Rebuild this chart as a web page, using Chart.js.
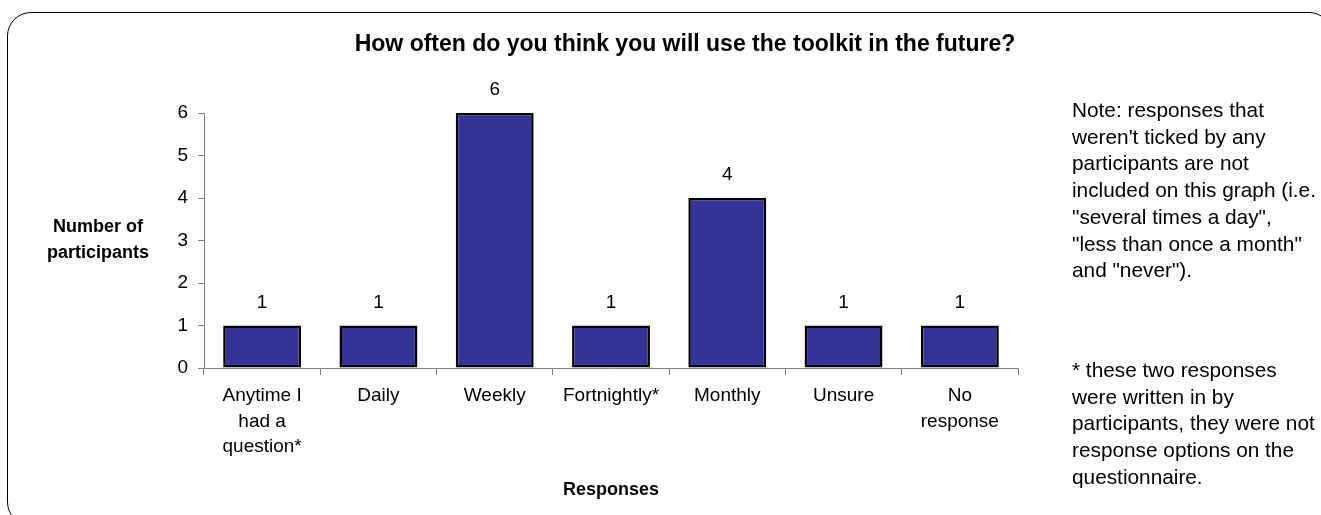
<!DOCTYPE html>
<html><head><meta charset="utf-8">
<script src="https://cdn.jsdelivr.net/npm/chart.js@4"></script>
<style>
html,body{margin:0;padding:0;width:1321px;height:515px;overflow:hidden;background:#fff;}
#frame{position:absolute;left:7px;top:12px;width:1326px;height:514px;border:1.5px solid #000;border-radius:24px;box-sizing:border-box;}
#wrap{position:absolute;left:0;top:0;width:1321px;height:515px;}
.note{position:absolute;left:1072px;font-family:"Liberation Sans",Arial,sans-serif;font-size:20.8px;line-height:26.7px;color:#000;white-space:nowrap;}
</style></head>
<body>
<div id="frame"></div>
<div id="wrap"><canvas id="c" width="1321" height="515"></canvas></div>
<div class="note" style="top:97px">Note: responses that<br>weren't ticked by any<br>participants are not<br>included on this graph (i.e.<br>"several times a day",<br>"less than once a month"<br>and "never").</div>
<div class="note" style="top:357px">* these two responses<br>were written in by<br>participants, they were not<br>response options on the<br>questionnaire.</div>
<script>
const chartTitle = "How often do you think you will use the toolkit in the future?";
const yAxisTitle = ["Number of", "participants"];
const xAxisTitle = "Responses";
const categories = [["Anytime I","had a","question*"], "Daily", "Weekly", "Fortnightly*", "Monthly", "Unsure", ["No","response"]];
const participants = [1, 1, 6, 1, 4, 1, 1];
const yTickValues = [0, 1, 2, 3, 4, 5, 6];

const FONT = '"Liberation Sans", Arial, sans-serif';

const extras = {
  id: 'extras',
  afterDraw(chart) {
    const ctx = chart.ctx;
    const area = chart.chartArea;
    ctx.save();
    ctx.fillStyle = '#000';
    // title
    ctx.font = 'bold 23px ' + FONT;
    ctx.textAlign = 'center';
    ctx.textBaseline = 'middle';
    ctx.fillText(chartTitle, 685, 45);
    // y axis title (horizontal)
    ctx.font = 'bold 18px ' + FONT;
    const yc = (area.top + area.bottom) / 2;
    ctx.fillText(yAxisTitle[0], 98, yc - 13);
    ctx.fillText(yAxisTitle[1], 98, yc + 13);
    // value labels
    ctx.font = '19px ' + FONT;
    const meta = chart.getDatasetMeta(0);
    meta.data.forEach((bar, i) => {
      ctx.fillText(String(participants[i]), bar.x, bar.y - 23);
    });
    ctx.restore();
  }
};

new Chart(document.getElementById('c'), {
  type: 'bar',
  data: {
    labels: categories,
    datasets: [{
      data: participants,
      backgroundColor: '#333399',
      borderColor: '#000000',
      borderWidth: 2.5,
      borderSkipped: false,
      barPercentage: 0.67,
      categoryPercentage: 1.0
    }]
  },
  options: {
    responsive: false,
    animation: false,
    layout: { padding: { top: 113, left: 144, right: 303, bottom: 0 } },
    plugins: { legend: { display: false }, tooltip: { enabled: false }, title: { display: false } },
    scales: {
      x: {
        afterFit: (s) => { s.height = 147; },
        grid: { display: true, drawOnChartArea: false, drawTicks: true, tickLength: 7, color: '#808080', offset: true },
        border: { display: true, color: '#808080', width: 1 },
        ticks: { color: '#000', font: { family: FONT, size: 19, lineHeight: 1.35 }, padding: 8, maxRotation: 0, autoSkip: false },
        title: { display: true, text: xAxisTitle, color: '#000', font: { family: FONT, size: 18, weight: 'bold' }, padding: { top: 0, bottom: 14 } }
      },
      y: {
        min: 0, max: 6,
        afterFit: (s) => { s.width = 60; },
        afterBuildTicks: (s) => { s.ticks = yTickValues.map(v => ({ value: v })); },
        grid: { display: true, drawOnChartArea: false, drawTicks: true, tickLength: 6, color: '#808080' },
        border: { display: true, color: '#808080', width: 1 },
        ticks: { color: '#000', font: { family: FONT, size: 19 }, padding: 10 }
      }
    }
  },
  plugins: [extras]
});
</script>
</body></html>
